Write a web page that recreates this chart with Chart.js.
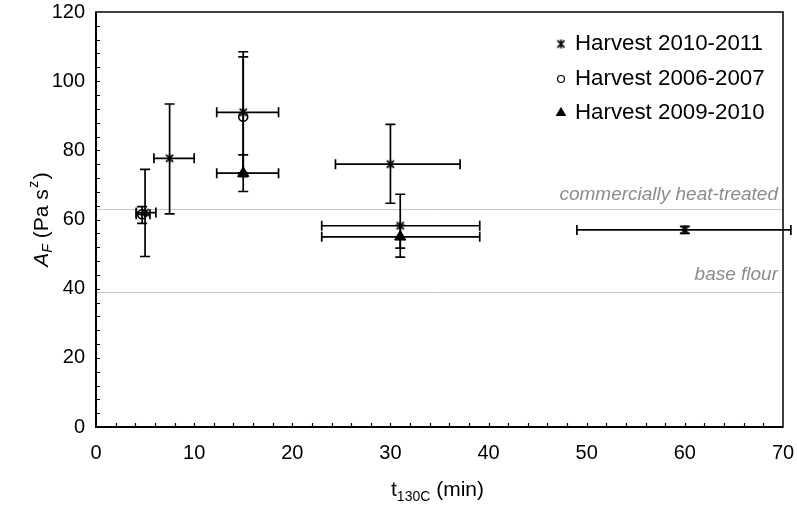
<!DOCTYPE html>
<html>
<head>
<meta charset="utf-8">
<script src="https://cdn.jsdelivr.net/npm/chart.js@4.4.1/dist/chart.umd.min.js"></script>
<style>
  html, body { margin: 0; padding: 0; background: #fff; }
</style>
</head>
<body>
<canvas id="graphBox" width="797" height="506"></canvas>
<script>
// axis ticks
const xTicks = [0, 10, 20, 30, 40, 50, 60, 70];
const yTicks = [0, 20, 40, 60, 80, 100, 120];

// Harvest 2010-2011 (asterisk)
const x2011 = [5, 7.5, 15, 30, 31, 60];
const y2011 = [62, 77.7, 91, 76, 58.2, 57];
const x2011Lo = [4.1, 5.9, 12.3, 24.4, 23, 49];
const x2011Hi = [6.1, 10, 18.6, 37.1, 39.1, 70.8];
const y2011Lo = [49.3, 61.6, 73.5, 64.7, 49.1, 56];
const y2011Hi = [74.5, 93.4, 108.5, 87.5, 67.3, 58];

// Harvest 2006-2007 (circle)
const x2007 = [4.7, 15];
const y2007 = [61.5, 89.7];
const x2007Lo = [4.1, 15];
const x2007Hi = [5.5, 15];
const y2007Lo = [58.9, 72.4];
const y2007Hi = [63.7, 107];

// Harvest 2009-2010 (triangle)
const x2010 = [15, 31];
const y2010 = [73.4, 55];
const x2010Lo = [12.3, 23];
const x2010Hi = [18.6, 39.1];
const y2010Lo = [68.1, 51.7];
const y2010Hi = [78.7, 58.3];

// reference levels
const refValues = [63, 39];
const refLabels = ['commercially heat-treated', 'base flour'];

const seriesNames = ['Harvest 2010-2011', 'Harvest 2006-2007', 'Harvest 2009-2010'];

const FONT = "'Liberation Sans', Arial, sans-serif";

// asterisk marker (x with a vertical bar)
function makeAsterisk(size) {
    const c = document.createElement('canvas');
    c.width = size; c.height = size;
    const g = c.getContext('2d');
    g.strokeStyle = '#000';
    g.lineWidth = 1.6;
    const m = size / 2, r = size / 2 - 1;
    g.beginPath();
    g.moveTo(m - r * 0.8, m - r * 0.8); g.lineTo(m + r * 0.8, m + r * 0.8);
    g.moveTo(m + r * 0.8, m - r * 0.8); g.lineTo(m - r * 0.8, m + r * 0.8);
    g.moveTo(m, m - r); g.lineTo(m, m + r);
    g.stroke();
    return c;
}
const asterisk = makeAsterisk(11);

function toPoints(xs, ys, xl, xh, yl, yh) {
    return xs.map((x, i) => ({ x: x, y: ys[i], xMin: xl[i], xMax: xh[i], yMin: yl[i], yMax: yh[i] }));
}

const datasets = [
    {
        label: seriesNames[0],
        data: toPoints(x2011, y2011, x2011Lo, x2011Hi, y2011Lo, y2011Hi),
        pointStyle: asterisk,
        pointRadius: 5,
        borderColor: '#000',
        backgroundColor: '#000'
    },
    {
        label: seriesNames[1],
        data: toPoints(x2007, y2007, x2007Lo, x2007Hi, y2007Lo, y2007Hi),
        pointStyle: 'circle',
        pointRadius: 4.5,
        borderWidth: 1.6,
        borderColor: '#000',
        backgroundColor: 'rgba(255,255,255,0)'
    },
    {
        label: seriesNames[2],
        data: toPoints(x2010, y2010, x2010Lo, x2010Hi, y2010Lo, y2010Hi),
        pointStyle: 'triangle',
        pointRadius: 6.5,
        borderWidth: 1,
        borderColor: '#000',
        backgroundColor: '#000'
    }
];

// error bars, reference lines, frame, inner ticks, legend and axis titles
const extras = {
    id: 'extras',
    beforeDatasetsDraw(chart) {
        const ctx = chart.ctx;
        const xs = chart.scales.x, ys = chart.scales.y;
        const a = chart.chartArea;
        ctx.save();
        // reference lines
        ctx.strokeStyle = '#c8c8c8';
        ctx.lineWidth = 1;
        refValues.forEach(v => {
            const py = Math.round(ys.getPixelForValue(v)) + 0.5;
            ctx.beginPath();
            ctx.moveTo(a.left, py);
            ctx.lineTo(a.right, py);
            ctx.stroke();
        });
        // error bars
        ctx.strokeStyle = '#000';
        ctx.lineWidth = 1.7;
        const cap = 5;
        chart.data.datasets.forEach(ds => {
            ds.data.forEach(p => {
                const px = xs.getPixelForValue(p.x), py = ys.getPixelForValue(p.y);
                ctx.beginPath();
                if (p.yMin !== p.yMax) {
                    const y1 = ys.getPixelForValue(p.yMin), y2 = ys.getPixelForValue(p.yMax);
                    ctx.moveTo(px, y1); ctx.lineTo(px, y2);
                    ctx.moveTo(px - cap, y1); ctx.lineTo(px + cap, y1);
                    ctx.moveTo(px - cap, y2); ctx.lineTo(px + cap, y2);
                }
                if (p.xMin !== p.xMax) {
                    const x1 = xs.getPixelForValue(p.xMin), x2 = xs.getPixelForValue(p.xMax);
                    ctx.moveTo(x1, py); ctx.lineTo(x2, py);
                    ctx.moveTo(x1, py - cap); ctx.lineTo(x1, py + cap);
                    ctx.moveTo(x2, py - cap); ctx.lineTo(x2, py + cap);
                }
                ctx.stroke();
            });
        });
        ctx.restore();
    },
    afterDraw(chart) {
        const ctx = chart.ctx;
        const xs = chart.scales.x, ys = chart.scales.y;
        const a = chart.chartArea;
        ctx.save();

        // frame
        ctx.strokeStyle = '#000';
        ctx.lineWidth = 1.5;
        ctx.strokeRect(a.left, a.top, a.right - a.left, a.bottom - a.top);
        ctx.lineWidth = 2;
        ctx.beginPath();
        ctx.moveTo(a.left, a.top); ctx.lineTo(a.left, a.bottom); ctx.lineTo(a.right, a.bottom);
        ctx.stroke();

        // inner minor ticks
        ctx.lineWidth = 1.2;
        ctx.beginPath();
        for (let v = 4; v < 120; v += 4) {
            const py = Math.round(ys.getPixelForValue(v)) + 0.5;
            ctx.moveTo(a.left, py); ctx.lineTo(a.left + 4, py);
        }
        for (let v = 2; v < 70; v += 2) {
            const px = Math.round(xs.getPixelForValue(v)) + 0.5;
            ctx.moveTo(px, a.bottom); ctx.lineTo(px, a.bottom - 4);
        }
        ctx.stroke();

        // reference labels
        ctx.fillStyle = '#8c8c8c';
        ctx.font = 'italic 19px ' + FONT;
        ctx.textAlign = 'right';
        ctx.textBaseline = 'bottom';
        const refOffset = [5, 8];
        refValues.forEach((v, i) => {
            ctx.fillText(refLabels[i], a.right - 5, ys.getPixelForValue(v) - refOffset[i]);
        });

        // legend
        ctx.font = '22.3px ' + FONT;
        ctx.textAlign = 'left';
        ctx.textBaseline = 'middle';
        const legY = [44, 79, 113];
        chart.data.datasets.forEach((ds, i) => {
            const style = {
                pointStyle: ds.pointStyle,
                radius: i === 2 ? 5 : (i === 1 ? 3.5 : 4),
                borderWidth: ds.borderWidth || 1,
                rotation: 0
            };
            ctx.strokeStyle = '#000';
            ctx.fillStyle = i === 1 ? 'rgba(255,255,255,0)' : '#000';
            Chart.helpers.drawPoint(ctx, style, 561, legY[i]);
            ctx.fillStyle = '#000';
            ctx.fillText(ds.label, 575, legY[i]);
        });

        // x axis title: t_130C (min)
        ctx.textBaseline = 'alphabetic';
        ctx.textAlign = 'left';
        const cx = (a.left + a.right) / 2;
        const baseY = 496;
        ctx.font = '21px ' + FONT;
        const w1 = ctx.measureText('t').width;
        ctx.font = '14px ' + FONT;
        const w2 = ctx.measureText('130C').width;
        ctx.font = '21px ' + FONT;
        const w3 = ctx.measureText(' (min)').width;
        let sx = cx - 2 - (w1 + w2 + w3) / 2;
        ctx.fillText('t', sx, baseY);
        ctx.font = '14px ' + FONT;
        ctx.fillText('130C', sx + w1, baseY + 5);
        ctx.font = '21px ' + FONT;
        ctx.fillText(' (min)', sx + w1 + w2, baseY);

        // y axis title: A_F (Pa s^z)
        ctx.translate(48, (a.top + a.bottom) / 2);
        ctx.rotate(-Math.PI / 2);
        ctx.font = 'italic 21px ' + FONT;
        const u1 = ctx.measureText('A').width;
        ctx.font = 'italic 14px ' + FONT;
        const u2 = ctx.measureText('F').width;
        ctx.font = '21px ' + FONT;
        const u3 = ctx.measureText(' (Pa s').width;
        ctx.font = '14px ' + FONT;
        const u4 = ctx.measureText('z').width;
        ctx.font = '21px ' + FONT;
        const u5 = ctx.measureText(')').width;
        let ty = -(u1 + u2 + u3 + u4 + u5 + 3) / 2;
        ctx.font = 'italic 21px ' + FONT;
        ctx.fillText('A', ty, 0); ty += u1;
        ctx.font = 'italic 14px ' + FONT;
        ctx.fillText('F', ty, 4); ty += u2;
        ctx.font = '21px ' + FONT;
        ctx.fillText(' (Pa s', ty, 0); ty += u3;
        ctx.font = '14px ' + FONT;
        ctx.fillText('z', ty + 1.5, -10); ty += u4 + 3;
        ctx.font = '21px ' + FONT;
        ctx.fillText(')', ty, 0);
        ctx.restore();
    }
};

const ctx = document.getElementById('graphBox').getContext('2d');
const graph = new Chart(ctx, {
    type: 'scatter',
    data: { datasets: datasets },
    options: {
        responsive: false,
        animation: false,
        layout: { padding: { left: 0, right: 14, top: 12, bottom: 0 } },
        plugins: {
            legend: { display: false },
            tooltip: { enabled: false }
        },
        scales: {
            x: {
                type: 'linear',
                min: 0, max: 70,
                afterFit: s => { s.height = 79; s.paddingLeft = 0; s.paddingRight = 0; },
                afterBuildTicks: s => { s.ticks = xTicks.map(v => ({ value: v })); },
                grid: { display: false, drawTicks: false },
                border: { display: false },
                ticks: { color: '#000', padding: 14, font: { family: FONT, size: 20 } }
            },
            y: {
                type: 'linear',
                min: 0, max: 120,
                afterFit: s => { s.width = 96; s.paddingTop = 0; s.paddingBottom = 0; },
                afterBuildTicks: s => { s.ticks = yTicks.map(v => ({ value: v })); },
                grid: { display: false, drawTicks: false },
                border: { display: false },
                ticks: { color: '#000', padding: 11, font: { family: FONT, size: 20 } }
            }
        }
    },
    plugins: [extras]
});
</script>
</body>
</html>
